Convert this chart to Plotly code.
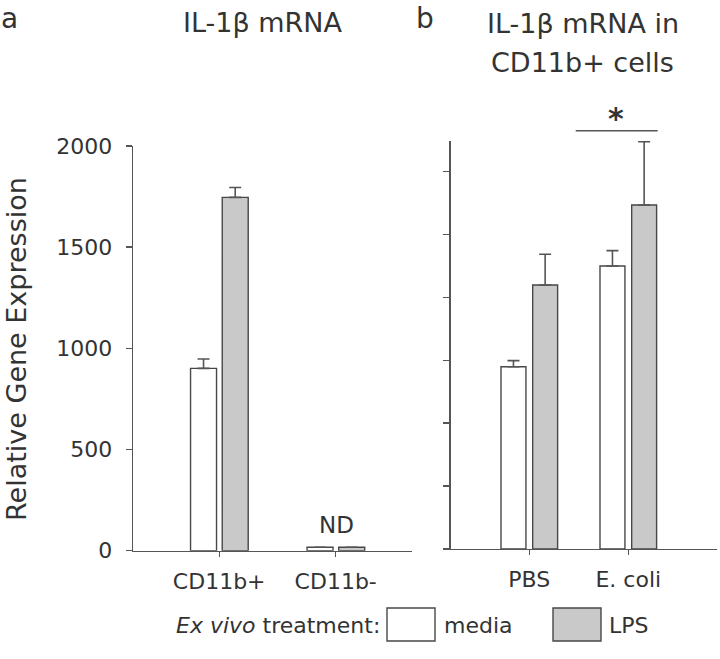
import plotly.graph_objects as go

# ---------------- data ----------------
cats_a = ["CD11b+", "CD11b-"]
media_a = [901, 17]
media_a_err = [46, 0]
lps_a = [1746, 17]
lps_a_err = [49, 0]

cats_b = ["PBS", "E. coli"]
media_b = [1449, 2250]
media_b_err = [48, 122]
lps_b = [2099, 2734]
lps_b_err = [244, 503]

yticks_a = [0, 500, 1000, 1500, 2000]
yticks_b = [0, 500, 1000, 1500, 2000, 2500, 3000]

W, H = 720, 659
FONT = "DejaVu Sans"
TXT = "#333333"
EDGE = "#474747"
AX = "#555555"
GRAY = "#c9c9c9"

def px(x):
    return x / W

def py(y):
    return (H - y) / H

fig = go.Figure()

def bars(x, y, err, fill, width, offset, xa, ya):
    fig.add_trace(go.Bar(
        x=x, y=y, xaxis=xa, yaxis=ya,
        width=width, offset=offset,
        marker=dict(color=fill, line=dict(color=EDGE, width=1.4)),
        error_y=dict(type="data", symmetric=False, array=err,
                     arrayminus=[0] * len(err), color=AX,
                     thickness=1.6, width=6),
        showlegend=False, hoverinfo="skip"))

bars(cats_a, media_a, media_a_err, "white", 0.223, -0.246, "x", "y")
bars(cats_a, lps_a, lps_a_err, GRAY, 0.223, 0.026, "x", "y")
bars(cats_b, media_b, media_b_err, "white", 0.252, -0.286, "x2", "y2")
bars(cats_b, lps_b, lps_b_err, GRAY, 0.252, 0.034, "x2", "y2")

# invisible full-figure overlay (pixel coordinates) for labels / legend
fig.add_trace(go.Scatter(x=[0], y=[0], xaxis="x3", yaxis="y3", mode="markers",
                         marker=dict(opacity=0), showlegend=False,
                         hoverinfo="skip"))

axis_common = dict(showline=True, linecolor=AX, linewidth=1.4,
                   showgrid=False, zeroline=False, ticks="outside",
                   tickcolor=AX, tickwidth=1.4)

fig.update_layout(
    width=W, height=H,
    margin=dict(l=0, r=0, t=0, b=0, autoexpand=False),
    plot_bgcolor="rgba(0,0,0,0)", paper_bgcolor="white",
    font=dict(family=FONT, color=TXT),
    barmode="overlay",
    xaxis=dict(domain=[px(133), px(412)], anchor="y", type="category",
               range=[-0.74, 1.655], ticklen=5, ticklabelstandoff=5,
               tickfont=dict(size=22, family=FONT, color=TXT),
               **axis_common),
    yaxis=dict(domain=[py(550.7), py(146)], anchor="x",
               range=[0, 2000], tickvals=yticks_a, ticklen=6,
               ticklabelstandoff=9,
               tickfont=dict(size=22, family=FONT, color=TXT),
               **axis_common),
    xaxis2=dict(domain=[px(450.7), px(717.3)], anchor="y2", type="category",
                range=[-0.794, 1.899], ticklen=5, ticklabelstandoff=5,
                tickfont=dict(size=22, family=FONT, color=TXT),
                **axis_common),
    yaxis2=dict(domain=[py(549), py(141)], anchor="x2",
                range=[0, 3243], tickvals=yticks_b, ticklen=6,
                showticklabels=False, **axis_common),
    xaxis3=dict(domain=[0, 1], range=[0, W], visible=False, anchor="y3",
                fixedrange=True),
    yaxis3=dict(domain=[0, 1], range=[H, 0], visible=False, anchor="x3",
                fixedrange=True),
)

ann = []
def text(x, y, s, size, xanchor="center", yanchor="middle", angle=0):
    ann.append(dict(x=x, y=y, xref="x3", yref="y3", text=s,
                    showarrow=False, xanchor=xanchor, yanchor=yanchor,
                    textangle=angle, borderpad=0,
                    font=dict(size=size, family=FONT, color=TXT)))

text(9, 0.5, "a", 28, yanchor="top")
text(425, 0.5, "b", 28, yanchor="top")
text(262.5, 22, "IL-1β mRNA", 27)
text(582.5, 23, "IL-1β mRNA in", 27)
text(582.5, 62, "CD11b+ cells", 27)
text(16, 349, "Relative Gene Expression", 27, angle=-90)
text(336, 525, "ND", 23)
text(616, 118, "<b>*</b>", 30)
text(381, 625, "<i>Ex vivo</i> treatment:", 22, xanchor="right")
text(443, 625, "media", 22, xanchor="left")
text(608, 625, "LPS", 22, xanchor="left")
fig.update_layout(annotations=ann)

shapes = [
    dict(type="line", xref="x3", yref="y3", x0=575.7, x1=657.7,
         y0=130.7, y1=130.7, line=dict(color=AX, width=1.6)),
    dict(type="rect", xref="x3", yref="y3", x0=387, x1=435,
         y0=608, y1=641, fillcolor="white", line=dict(color=EDGE, width=1.4)),
    dict(type="rect", xref="x3", yref="y3", x0=553, x1=601,
         y0=608, y1=641, fillcolor=GRAY, line=dict(color=EDGE, width=1.4)),
]
fig.update_layout(shapes=shapes)

fig.write_html("out.html",
               config={"displayModeBar": False, "staticPlot": True},
               post_script="document.body.style.margin='0';"
                           "document.body.style.overflow='hidden';")
